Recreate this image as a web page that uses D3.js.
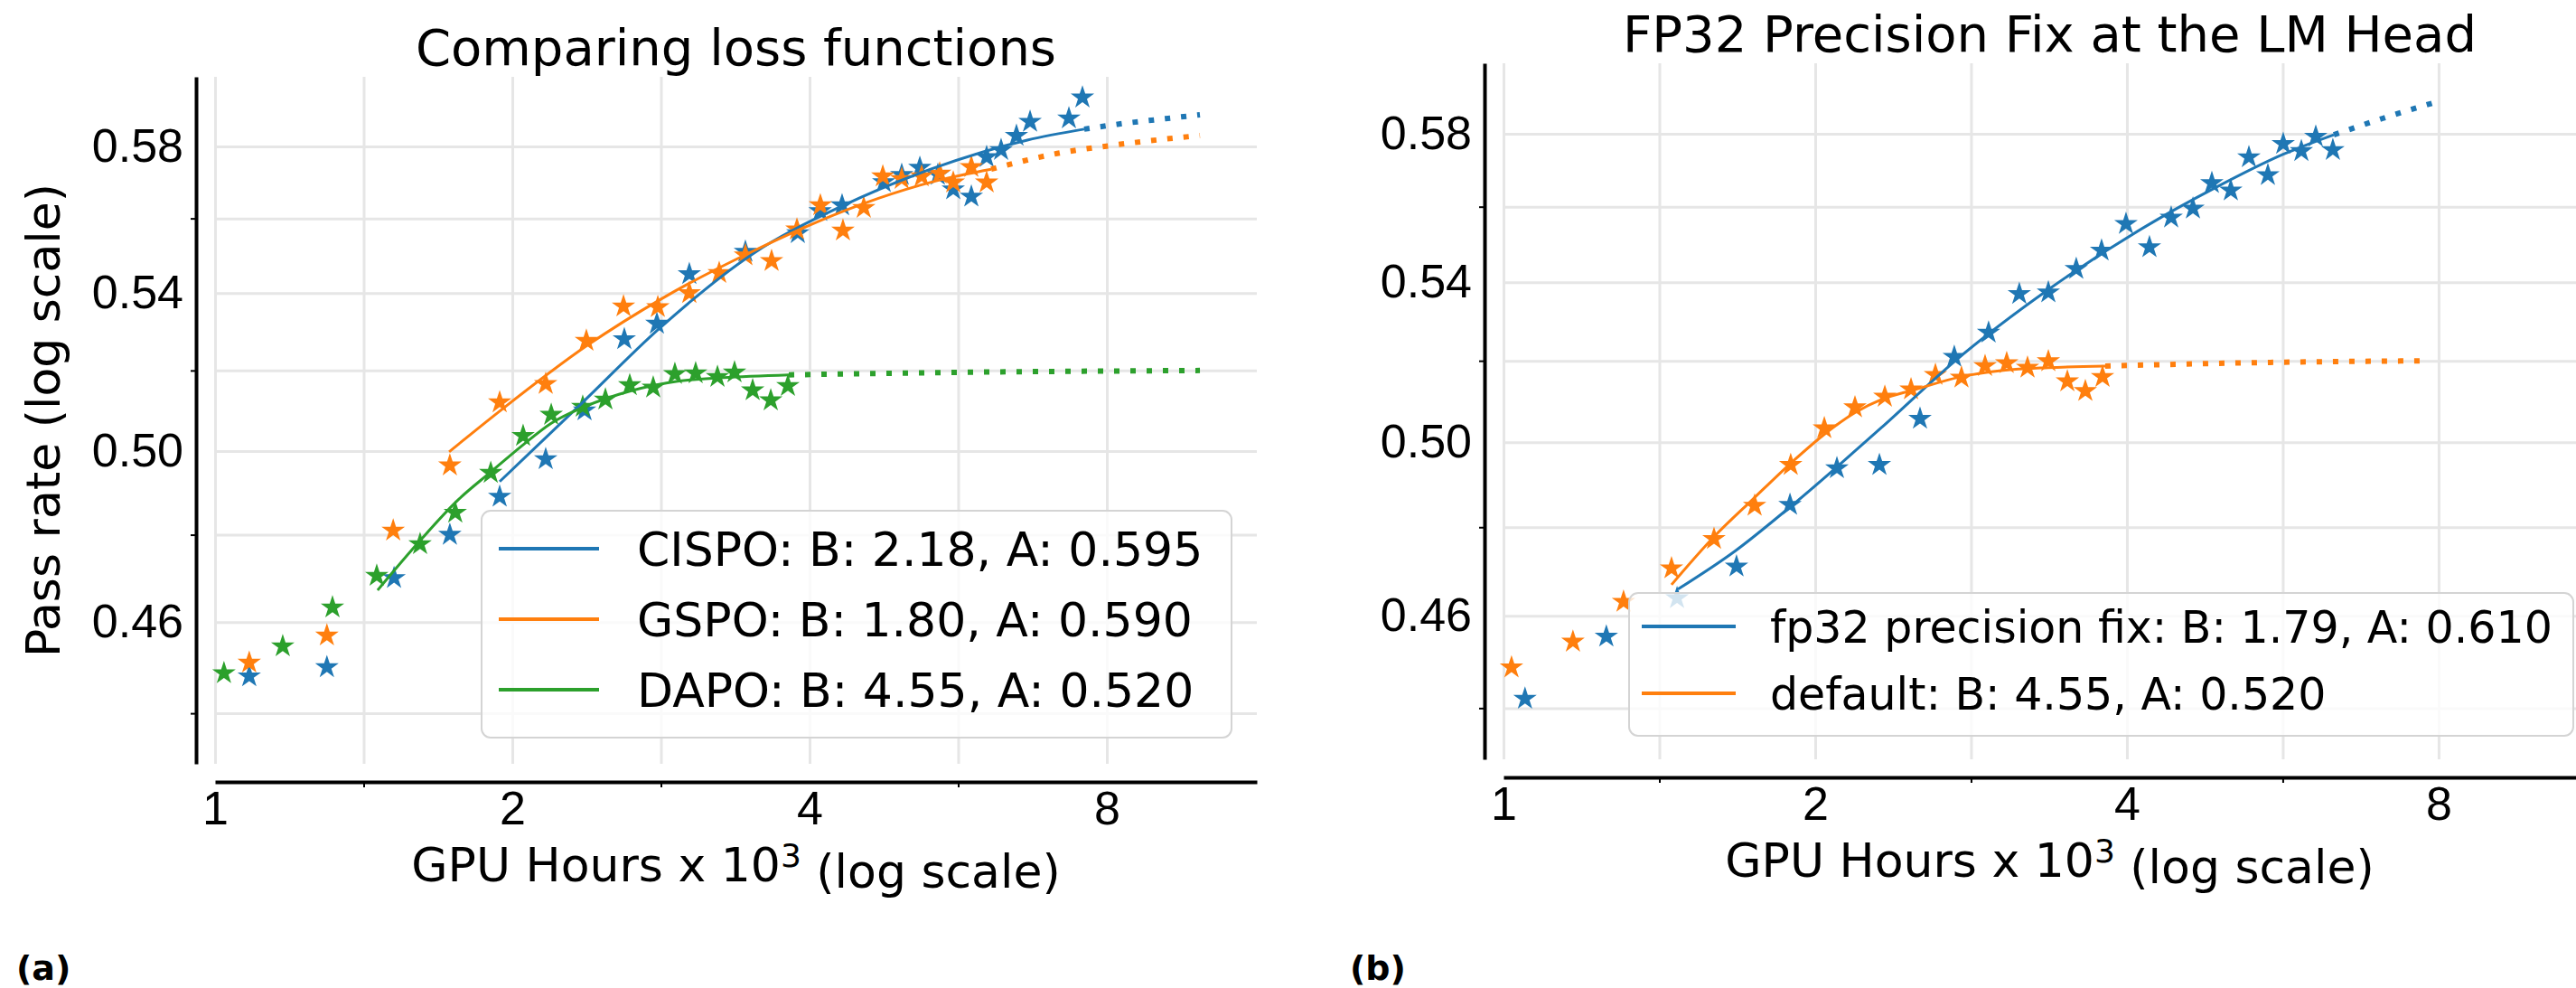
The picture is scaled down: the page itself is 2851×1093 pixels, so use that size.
<!DOCTYPE html>
<meta charset="utf-8">
<head>
    <title>Loss function comparison</title>
    <script src="https://cdnjs.cloudflare.com/ajax/libs/d3/7.8.5/d3.min.js"></script>
    <style>
        body { margin: 0; background: #fff; }
        svg { display: block; font-family: 'DejaVu Sans', sans-serif; }
        .grid line { stroke: #e6e6e6; stroke-width: 3; }
        .grid path { stroke-width: 0; }
        .spine path { stroke: #000; stroke-width: 4; }
        .spine line { stroke: #000; stroke-width: 2; }
        .ticklabels path { stroke-width: 0; }
        .ticklabels text { font-size: 52px; fill: #000; }
        text.title { font-size: 56px; }
        text.label { font-size: 52px; }
        text.panel { font-size: 38px; font-weight: bold; }
    </style>
</head>
<body>
<svg></svg>
<script>
    // ----- panel (a): comparing loss functions -----
    const cispoHours = [1.083, 1.298, 1.518, 1.729, 1.942, 2.162, 2.367, 2.597, 2.802, 3.022, 3.444, 3.892, 4.10,
        4.315, 4.755, 4.959, 5.173, 5.395, 5.592, 5.833, 6.045, 6.252, 6.480, 6.689, 7.323, 7.558];
    const cispoPass = [0.448, 0.450, 0.470, 0.480, 0.489, 0.498, 0.510, 0.528, 0.532, 0.545, 0.551, 0.556, 0.562,
        0.5636, 0.570, 0.572, 0.574, 0.572, 0.568, 0.566, 0.577, 0.579, 0.583, 0.587, 0.588, 0.594];

    const gspoHours = [1.083, 1.298, 1.515, 1.729, 1.942, 2.162, 2.377, 2.592, 2.808, 3.022, 3.240, 3.444, 3.661,
        3.884, 4.102, 4.324, 4.539, 4.745, 4.959, 5.195, 5.418, 5.592, 5.833, 6.045];
    const gspoPass = [0.451, 0.457, 0.481, 0.4965, 0.512, 0.5166, 0.5276, 0.5365, 0.5363, 0.540, 0.5453, 0.550, 0.5485,
        0.557, 0.5636, 0.5567, 0.5629, 0.5716, 0.5709, 0.5716, 0.5724, 0.5699, 0.5742, 0.5699];

    const dapoHours = [1.021, 1.171, 1.315, 1.458, 1.613, 1.751, 1.902, 2.051, 2.190, 2.357, 2.485, 2.630, 2.778,
        2.922, 3.067, 3.227, 3.358, 3.503, 3.654, 3.803];
    const dapoPass = [0.4487, 0.4546, 0.4633, 0.4705, 0.4778, 0.4852, 0.4947, 0.5037, 0.5089, 0.5109, 0.5127, 0.5163,
        0.5157, 0.5191, 0.5193, 0.5184, 0.5195, 0.5150, 0.5125, 0.5161];

    // fitted curves (solid) and their extrapolation (dotted)
    const cispoFitHours = [1.942, 2.357, 2.808, 3.503, 4.315, 5.305, 6.647, 7.589];
    const cispoFitPass = [0.4926, 0.5120, 0.5304, 0.5504, 0.5634, 0.5736, 0.5818, 0.5849];
    const cispoExtHours = [7.589, 8.205, 9.175, 9.94];
    const cispoExtPass = [0.5849, 0.5863, 0.5879, 0.5890];

    const gspoFitHours = [1.726, 1.942, 2.382, 2.837, 3.503, 4.539, 5.384, 6.109];
    const gspoFitPass = [0.4998, 0.5098, 0.5264, 0.5386, 0.5511, 0.5641, 0.5704, 0.5736];
    const gspoExtHours = [6.109, 7.125, 8.205, 9.94];
    const gspoExtPass = [0.5736, 0.5780, 0.5805, 0.5831];

    const dapoFitHours = [1.461, 1.607, 1.762, 1.902, 2.051, 2.190, 2.367, 2.630, 2.941, 3.268, 3.811];
    const dapoFitPass = [0.4672, 0.4782, 0.4882, 0.4949, 0.5015, 0.5068, 0.5109, 0.5148, 0.5173, 0.5182, 0.5189];
    const dapoExtHours = [3.811, 6.0, 9.94];
    const dapoExtPass = [0.5189, 0.5196, 0.5200];

    // ----- panel (b): fp32 precision fix -----
    const fp32Hours = [1.049, 1.257, 1.471, 1.679, 1.891, 2.099, 2.307, 2.525, 2.725, 2.941, 3.149, 3.359, 3.574,
        3.781, 3.992, 4.206, 4.414, 4.633, 4.832, 5.040, 5.247, 5.473, 5.663, 5.896, 6.088, 6.324];
    const fp32Pass = [0.4420, 0.4554, 0.4639, 0.4710, 0.4852, 0.4938, 0.4946, 0.5057, 0.5210, 0.5271, 0.5370, 0.5374,
        0.5435, 0.5483, 0.5554, 0.5492, 0.5571, 0.5595, 0.5664, 0.5644, 0.5735, 0.5686, 0.5772, 0.5752, 0.5792, 0.5755];

    const defaultHours = [1.018, 1.167, 1.306, 1.453, 1.597, 1.748, 1.894, 2.041, 2.185, 2.335, 2.475, 2.613, 2.769,
        2.918, 3.062, 3.207, 3.359, 3.504, 3.647, 3.789];
    const defaultPass = [0.4487, 0.4543, 0.4631, 0.4706, 0.4773, 0.4850, 0.4946, 0.5034, 0.5085, 0.5111, 0.5129,
        0.5165, 0.5158, 0.5187, 0.5194, 0.5183, 0.5199, 0.5149, 0.5125, 0.5160];

    const fp32FitHours = [1.474, 1.673, 1.898, 2.321, 2.725, 3.379, 4.240, 4.851, 5.663, 6.337];
    const fp32FitPass = [0.4659, 0.4745, 0.4850, 0.5037, 0.5198, 0.5386, 0.5559, 0.5649, 0.5743, 0.5797];
    const fp32ExtHours = [6.337, 7.063, 7.888];
    const fp32ExtPass = [0.5797, 0.5843, 0.5886];

    const defaultFitHours = [1.453, 1.597, 1.741, 1.898, 2.045, 2.185, 2.321, 2.485, 2.764, 3.038, 3.359, 3.812];
    const defaultFitPass = [0.4669, 0.4778, 0.4865, 0.4952, 0.5021, 0.5072, 0.5105, 0.5127, 0.5160, 0.5176, 0.5183, 0.5187];
    const defaultExtHours = [3.812, 5.5, 7.8];
    const defaultExtPass = [0.5187, 0.5196, 0.5200];

    // ticks
    const xLimits = [1, 11.35];
    const yLimits = [0.4293, 0.600];
    const xGrid = [1, Math.SQRT2, 2, 2 * Math.SQRT2, 4, 4 * Math.SQRT2, 8];
    const xLabeled = [1, 2, 4, 8];
    const xMinor = [Math.SQRT2, 2 * Math.SQRT2, 4 * Math.SQRT2];
    const yGrid = [0.44, 0.46, 0.48, 0.50, 0.52, 0.54, 0.56, 0.58];
    const yLabeled = [0.46, 0.50, 0.54, 0.58];
    const yMinor = [0.44, 0.48, 0.52, 0.56];

    const blue = '#1f77b4', orange = '#ff7f0e', green = '#2ca02c';

    const zip = (xs, ys) => xs.map((v, i) => [v, ys[i]]);

    const svg = d3.select('svg').attr('width', 2851).attr('height', 1093);

    function drawPanel(p) {
        const x = d3.scaleLog().base(2).domain(xLimits).range([p.left, p.right]);
        const y = d3.scaleLog().domain(yLimits).range([p.bottom, p.top]);
        const g = svg.append('g');

        g.append('g')
            .attr('class', 'grid')
            .attr('transform', `translate(0, ${p.bottom})`)
            .call(d3.axisBottom(x).tickValues(xGrid).tickSize(-(p.bottom - p.top)).tickFormat(''));
        g.append('g')
            .attr('class', 'grid')
            .attr('transform', `translate(${p.left}, 0)`)
            .call(d3.axisLeft(y).tickValues(yGrid).tickSize(-(p.right - p.left)).tickFormat(''));

        // offset spines with small ticks at the unlabeled positions
        const xAxisY = p.bottom + 20;
        const yAxisX = p.left - 21;
        g.append('g')
            .attr('class', 'spine')
            .attr('transform', `translate(0, ${xAxisY})`)
            .call(d3.axisBottom(x).tickValues(xMinor).tickSize(6).tickSizeOuter(0).tickFormat(''));
        g.append('g')
            .attr('class', 'spine')
            .attr('transform', `translate(${yAxisX}, 0)`)
            .call(d3.axisLeft(y).tickValues(yMinor).tickSize(6).tickSizeOuter(0).tickFormat(''));

        g.append('g')
            .attr('class', 'ticklabels')
            .attr('transform', `translate(0, ${xAxisY})`)
            .call(d3.axisBottom(x).tickValues(xLabeled).tickSize(0).tickPadding(10).tickFormat(d3.format('d')));
        g.append('g')
            .attr('class', 'ticklabels')
            .attr('transform', `translate(${yAxisX}, 0)`)
            .call(d3.axisLeft(y).tickValues(yLabeled).tickSize(0).tickPadding(14).tickFormat(d3.format('.2f')));

        const line = d3.line()
            .x((d) => x(d[0]))
            .y((d) => y(d[1]))
            .curve(d3.curveMonotoneX);
        const star = d3.symbol(d3.symbolStar).size(210);

        p.series.forEach((s) => {
            g.append('g')
                .selectAll('path')
                .data(zip(s.hours, s.pass))
                .enter()
                .append('path')
                .attr('transform', (d) => `translate(${x(d[0])}, ${y(d[1])})`)
                .attr('d', star)
                .attr('fill', s.color);
        });
        p.series.forEach((s) => {
            g.append('path')
                .datum(zip(s.fitHours, s.fitPass))
                .attr('d', line)
                .attr('fill', 'none')
                .attr('stroke', s.color)
                .attr('stroke-width', 3);
            g.append('path')
                .datum(zip(s.extHours, s.extPass))
                .attr('d', line)
                .attr('fill', 'none')
                .attr('stroke', s.color)
                .attr('stroke-width', 6)
                .attr('stroke-dasharray', '6 12');
        });

        // legend
        const lg = p.legend;
        g.append('rect')
            .attr('x', lg.x)
            .attr('y', lg.y)
            .attr('width', lg.w)
            .attr('height', lg.h)
            .attr('rx', 10)
            .attr('fill', '#fff')
            .attr('fill-opacity', 0.8)
            .attr('stroke', '#d4d4d4')
            .attr('stroke-width', 2);
        p.series.forEach((s, i) => {
            const cy = lg.firstRow + i * lg.rowGap;
            g.append('line')
                .attr('x1', lg.x + lg.pad)
                .attr('x2', lg.x + lg.pad + lg.handle)
                .attr('y1', cy)
                .attr('y2', cy)
                .attr('stroke', s.color)
                .attr('stroke-width', 4);
            g.append('text')
                .attr('x', lg.x + lg.textOffset)
                .attr('y', cy)
                .attr('dy', '0.36em')
                .style('font-size', `${lg.fontSize}px`)
                .text(s.name);
        });

        const cx = (p.left + p.right) / 2;
        g.append('text')
            .attr('class', 'title')
            .attr('x', cx)
            .attr('y', p.top - 13)
            .attr('text-anchor', 'middle')
            .text(p.title);

        const xl = g.append('text')
            .attr('class', 'label')
            .attr('x', cx)
            .attr('y', xAxisY + 110)
            .attr('text-anchor', 'middle');
        xl.append('tspan').text('GPU Hours x 10');
        xl.append('tspan').attr('dy', '-0.45em').style('font-size', '36px').text('3');
        xl.append('tspan').attr('dy', '0.45em').text(' (log scale)');

        if (p.yLabel) {
            g.append('text')
                .attr('class', 'label')
                .attr('transform', `translate(66, ${(p.top + p.bottom) / 2}) rotate(-90)`)
                .attr('text-anchor', 'middle')
                .text(p.yLabel);
        }

        g.append('text')
            .attr('class', 'panel')
            .attr('x', p.tagX)
            .attr('y', 1084)
            .text(p.tag);
    }

    drawPanel({
        left: 238, right: 1391, top: 85, bottom: 845,
        title: 'Comparing loss functions',
        yLabel: 'Pass rate (log scale)',
        tag: '(a)', tagX: 18,
        legend: {x: 533, y: 565, w: 830, h: 251, pad: 19, handle: 111, textOffset: 172,
            firstRow: 607, rowGap: 78, fontSize: 52},
        series: [
            {name: 'CISPO: B: 2.18, A: 0.595', color: blue, hours: cispoHours, pass: cispoPass,
                fitHours: cispoFitHours, fitPass: cispoFitPass, extHours: cispoExtHours, extPass: cispoExtPass},
            {name: 'GSPO: B: 1.80, A: 0.590', color: orange, hours: gspoHours, pass: gspoPass,
                fitHours: gspoFitHours, fitPass: gspoFitPass, extHours: gspoExtHours, extPass: gspoExtPass},
            {name: 'DAPO: B: 4.55, A: 0.520', color: green, hours: dapoHours, pass: dapoPass,
                fitHours: dapoFitHours, fitPass: dapoFitPass, extHours: dapoExtHours, extPass: dapoExtPass}
        ]
    });

    drawPanel({
        left: 1664, right: 2873, top: 70, bottom: 840,
        title: 'FP32 Precision Fix at the LM Head',
        yLabel: null,
        tag: '(b)', tagX: 1494,
        legend: {x: 1803, y: 656, w: 1045, h: 158, pad: 14, handle: 104, textOffset: 156,
            firstRow: 693, rowGap: 74, fontSize: 49},
        series: [
            {name: 'fp32 precision fix: B: 1.79, A: 0.610', color: blue, hours: fp32Hours, pass: fp32Pass,
                fitHours: fp32FitHours, fitPass: fp32FitPass, extHours: fp32ExtHours, extPass: fp32ExtPass},
            {name: 'default: B: 4.55, A: 0.520', color: orange, hours: defaultHours, pass: defaultPass,
                fitHours: defaultFitHours, fitPass: defaultFitPass, extHours: defaultExtHours, extPass: defaultExtPass}
        ]
    });
</script>
</body>
